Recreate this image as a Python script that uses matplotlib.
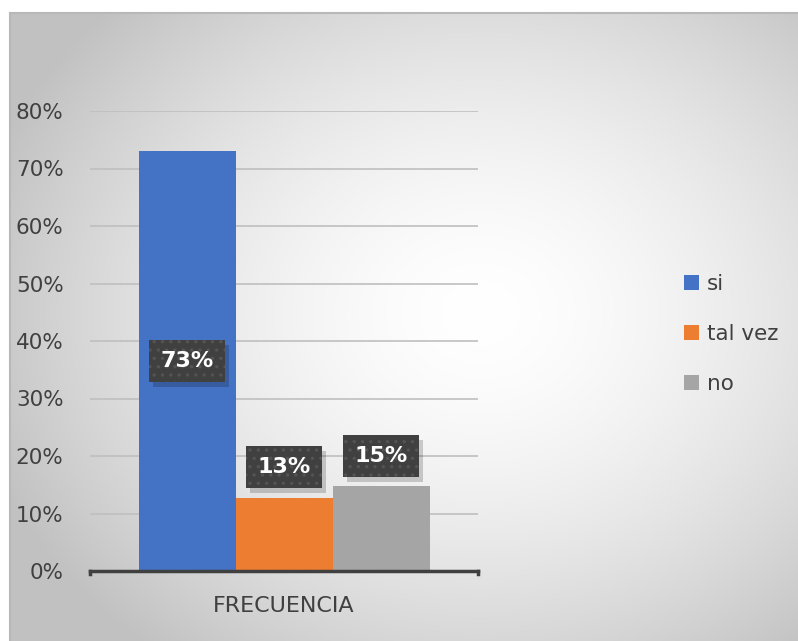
import numpy as np
import matplotlib.pyplot as plt
from matplotlib.patches import Rectangle
from matplotlib.transforms import IdentityTransform

# datos
categorias = ['si', 'tal vez', 'no']
valores = [0.73, 0.127, 0.148]
etiquetas = ['73%', '13%', '15%']
colores = ['#4472C4', '#ED7D31', '#A5A5A5']
ticks = [0, 0.1, 0.2, 0.3, 0.4, 0.5, 0.6, 0.7, 0.8]
tick_labels = ['0%', '10%', '20%', '30%', '40%', '50%', '60%', '70%', '80%']

plt.rcParams['font.family'] = ['DejaVu Sans']
plt.rcParams['hatch.linewidth'] = 1.2

fig = plt.figure(figsize=(7.98, 6.41), dpi=100)

# fondo con gradiente radial
bg = fig.add_axes([10 / 798, 0, 788 / 798, 628 / 641])
bg.set_axis_off()
yy, xx = np.mgrid[0:628, 0:788]
cx, cy = 470, 300
r = np.sqrt(((xx - cx) / 520.0) ** 2 + ((yy - cy) / 430.0) ** 2)
g = 1.0 - 0.24 * np.clip(r, 0, 1) ** 1.6
img = np.dstack([g, g, g])
bg.imshow(img, aspect='auto', extent=[0, 1, 0, 1])
bg.set_xlim(0, 1)
bg.set_ylim(0, 1)
bg.plot([0, 1], [1, 1], color='#b8b8b8', lw=1.5, transform=bg.transAxes, clip_on=False)
bg.plot([0, 0], [0, 1], color='#b8b8b8', lw=1.5, transform=bg.transAxes, clip_on=False)

ax = fig.add_axes([90 / 798, 1 - 571 / 641, 388 / 798, 460 / 641])
ax.patch.set_alpha(0)
x = np.arange(len(categorias))
bars = ax.bar(x, valores, width=1.0, color=colores, zorder=2)
ax.set_xlim(-1.0, 3.0)
ax.set_ylim(0, 0.8)
ax.set_yticks(ticks)
ax.set_yticklabels(tick_labels, fontsize=15.5, color='#404040')
ax.set_xticks([1])
ax.set_xticklabels(['FRECUENCIA'], fontsize=16, color='#404040')
ax.tick_params(axis='y', length=0, pad=19)
ax.tick_params(axis='x', length=0, pad=18)
ax.grid(axis='y', color='#bfbfbf', lw=1.2, zorder=0)
for s in ['top', 'right', 'left']:
    ax.spines[s].set_visible(False)
ax.spines['bottom'].set_color('#404040')
ax.spines['bottom'].set_linewidth(2.5)
ax.plot([-1.0, -1.0], [0, -0.006], color='#404040', lw=2.5, clip_on=False)
ax.plot([3.0, 3.0], [0, -0.006], color='#404040', lw=2.5, clip_on=False)

# etiquetas de datos
label_y = [0.365, 0.181, 0.20]
textos = []
for i, lab in enumerate(etiquetas):
    t = ax.text(x[i], label_y[i], lab, fontsize=16, fontweight='bold', color='white',
                ha='center', va='center', zorder=4,
                bbox=dict(boxstyle='square,pad=0.5', fc='#404040', ec='#545454', lw=0, hatch='..'))
    textos.append(t)

# sombra de las etiquetas
fig.canvas.draw()
renderer = fig.canvas.get_renderer()
for t in textos:
    bb = t.get_bbox_patch().get_window_extent(renderer)
    ax.add_patch(Rectangle((bb.x0 + 4, bb.y0 - 5), bb.width, bb.height,
                           transform=IdentityTransform(), fc='black', ec='none',
                           alpha=0.18, zorder=3))

# leyenda
ax.legend(bars, categorias, loc='center left', bbox_to_anchor=(1.48, 0.515),
          frameon=False, fontsize=15.5, handlelength=0.7, handleheight=0.7,
          labelspacing=1.4, handletextpad=0.4, labelcolor='#404040')

plt.savefig('out.png', dpi=100)
